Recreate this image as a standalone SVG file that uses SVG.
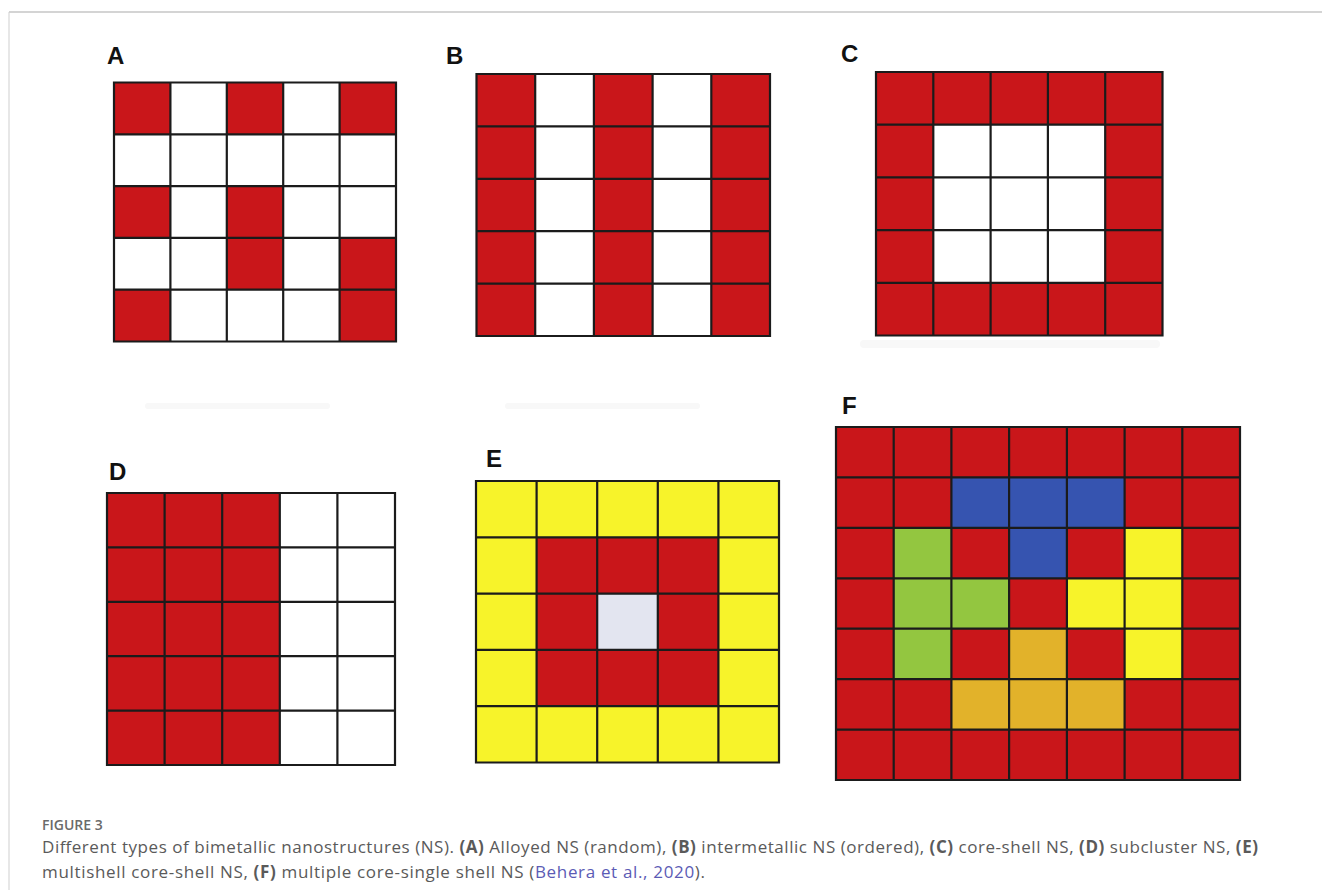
<svg xmlns="http://www.w3.org/2000/svg" width="1322" height="890" viewBox="0 0 1322 890">
<style>
.lbl{font-family:"Liberation Sans",Arial,sans-serif;font-weight:bold;font-size:24px;fill:#111}
.grid{fill:none;stroke:#1b1b1b;stroke-width:2.2}
.r{fill:#c9161a}.w{fill:#ffffff}.y{fill:#f7f32a}.b{fill:#3654b0}.g{fill:#93c640}.o{fill:#e2b22a}.l{fill:#e3e5f0}
.cap{font-family:"Open Sans","Liberation Sans",sans-serif;font-size:17px;fill:#5a5a5a}
.fig{font-family:"Open Sans","Liberation Sans",sans-serif;font-size:14px;font-weight:600;fill:#6a6a6a}
.smudge{fill:#f8f8f8}
</style>
<rect x="0" y="0" width="1322" height="890" fill="#ffffff"/>
<g id="frame">
<line x1="9" y1="12" x2="1322" y2="12" stroke="#d4d4d4" stroke-width="2"/>
<line x1="9" y1="12" x2="9" y2="890" stroke="#cfcfcf" stroke-width="1"/>
</g>
<g id="smudges">
<rect class="smudge" x="145" y="403" width="185" height="6" rx="3"/>
<rect class="smudge" x="505" y="403" width="195" height="6" rx="3"/>
<rect class="smudge" x="860" y="340" width="300" height="8" rx="4"/>
</g>
<g id="panelA">
<text class="lbl" x="107" y="64">A</text>
<rect class="w" x="114" y="82.5" width="282" height="259"/>
<rect class="r" x="114" y="82.5" width="56.4" height="51.8"/>
<rect class="r" x="226.8" y="82.5" width="56.4" height="51.8"/>
<rect class="r" x="339.6" y="82.5" width="56.4" height="51.8"/>
<rect class="r" x="114" y="186.1" width="56.4" height="51.8"/>
<rect class="r" x="226.8" y="186.1" width="56.4" height="103.6"/>
<rect class="r" x="339.6" y="237.9" width="56.4" height="103.6"/>
<rect class="r" x="114" y="289.7" width="56.4" height="51.8"/>
<path class="grid" d="M114 82.5H396V341.5H114Z M170.4 82.5V341.5 M226.8 82.5V341.5 M283.2 82.5V341.5 M339.6 82.5V341.5 M114 134.3H396 M114 186.1H396 M114 237.9H396 M114 289.7H396"/>
</g>
<g id="panelB">
<text class="lbl" x="446" y="64">B</text>
<rect class="w" x="476.5" y="74" width="293.5" height="262"/>
<rect class="r" x="476.5" y="74" width="58.7" height="262"/>
<rect class="r" x="593.9" y="74" width="58.7" height="262"/>
<rect class="r" x="711.3" y="74" width="58.7" height="262"/>
<path class="grid" d="M476.5 74H770V336H476.5Z M535.2 74V336 M593.9 74V336 M652.6 74V336 M711.3 74V336 M476.5 126.4H770 M476.5 178.8H770 M476.5 231.2H770 M476.5 283.6H770"/>
</g>
<g id="panelC">
<text class="lbl" x="841" y="62">C</text>
<rect class="r" x="876" y="72" width="286.5" height="263.5"/>
<rect class="w" x="933.3" y="124.7" width="171.9" height="158.1"/>
<path class="grid" d="M876 72H1162.5V335.5H876Z M933.3 72V335.5 M990.6 72V335.5 M1047.9 72V335.5 M1105.2 72V335.5 M876 124.7H1162.5 M876 177.4H1162.5 M876 230.1H1162.5 M876 282.8H1162.5"/>
</g>
<g id="panelD">
<text class="lbl" x="109" y="480">D</text>
<rect class="w" x="107" y="493" width="288" height="272"/>
<rect class="r" x="107" y="493" width="172.8" height="272"/>
<path class="grid" d="M107 493H395V765H107Z M164.6 493V765 M222.2 493V765 M279.8 493V765 M337.4 493V765 M107 547.4H395 M107 601.8H395 M107 656.2H395 M107 710.6H395"/>
</g>
<g id="panelE">
<text class="lbl" x="486" y="467">E</text>
<rect class="y" x="476" y="481" width="303" height="281.5"/>
<rect class="r" x="536.6" y="537.3" width="181.8" height="168.9"/>
<rect class="l" x="597.2" y="593.6" width="60.6" height="56.3"/>
<path class="grid" d="M476 481H779V762.5H476Z M536.6 481V762.5 M597.2 481V762.5 M657.8 481V762.5 M718.4 481V762.5 M476 537.3H779 M476 593.6H779 M476 649.9H779 M476 706.2H779"/>
</g>
<g id="panelF">
<text class="lbl" x="842" y="414">F</text>
<rect class="r" x="836" y="427" width="404" height="353"/>
<rect class="b" x="951.4" y="477.4" width="173.2" height="50.5"/>
<rect class="b" x="1009.1" y="527.9" width="57.8" height="50.4"/>
<rect class="g" x="893.7" y="527.9" width="57.7" height="151.2"/>
<rect class="g" x="951.4" y="578.3" width="57.7" height="50.4"/>
<rect class="y" x="1124.6" y="527.9" width="57.7" height="151.2"/>
<rect class="y" x="1066.9" y="578.3" width="57.7" height="50.4"/>
<rect class="o" x="1009.1" y="628.7" width="57.8" height="50.4"/>
<rect class="o" x="951.4" y="679.1" width="173.2" height="50.5"/>
<path class="grid" d="M836 427H1240V780H836Z M893.7 427V780 M951.4 427V780 M1009.1 427V780 M1066.9 427V780 M1124.6 427V780 M1182.3 427V780 M836 477.4H1240 M836 527.9H1240 M836 578.3H1240 M836 628.7H1240 M836 679.1H1240 M836 729.6H1240"/>
</g>
<g id="caption">
<text class="fig" x="42" y="830">FIGURE 3</text>
<text class="cap" x="42" y="853" textLength="1216">Different types of bimetallic nanostructures (NS). <tspan font-weight="bold">(A)</tspan> Alloyed NS (random), <tspan font-weight="bold">(B)</tspan> intermetallic NS (ordered), <tspan font-weight="bold">(C)</tspan> core-shell NS, <tspan font-weight="bold">(D)</tspan> subcluster NS, <tspan font-weight="bold">(E)</tspan></text>
<text class="cap" x="42" y="878" textLength="663">multishell core-shell NS, <tspan font-weight="bold">(F)</tspan> multiple core-single shell NS (<tspan fill="#5b5bb5">Behera et al., 2020</tspan>).</text>
</g>
</svg>
